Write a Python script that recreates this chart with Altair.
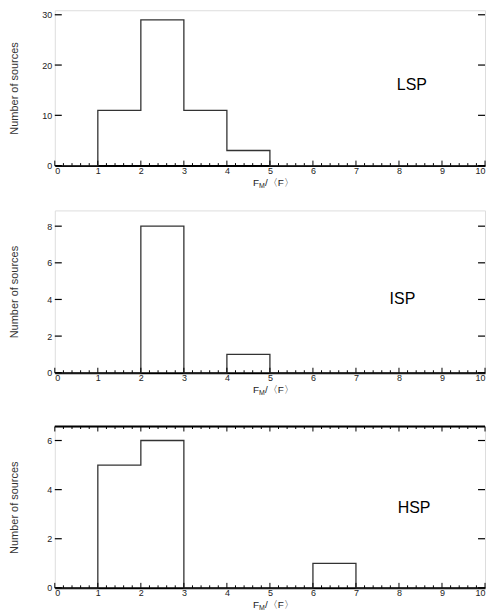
import altair as alt
import pandas as pd

# ---- data ----
bin_edges = [0, 1, 2, 3, 4, 5, 6, 7, 8, 9, 10]
lsp_counts = [0, 11, 29, 11, 3, 0, 0, 0, 0, 0]
isp_counts = [0, 0, 8, 0, 1, 0, 0, 0, 0, 0]
hsp_counts = [0, 5, 6, 0, 0, 0, 1, 0, 0, 0]

lsp_yticks = [0, 10, 20, 30]
isp_yticks = [0, 2, 4, 6, 8]
hsp_yticks = [0, 2, 4, 6]

x_major = [0, 1, 2, 3, 4, 5, 6, 7, 8, 9, 10]
x_minor = [round(i * 0.2, 1) for i in range(51) if i % 5 != 0]

W = 432
FONT = "Liberation Sans"


def panel(name, counts, ymax, yticks, lab_x, lab_y, h, top_ticks, below):
    df = pd.DataFrame({"x": bin_edges, "y": counts + [0]})
    xs = alt.Scale(domain=[0, 10], nice=False, zero=False)
    ys = alt.Scale(domain=[0, ymax], nice=False)

    line = alt.Chart(df).mark_line(
        interpolate="step-after", color="#333333", strokeWidth=1.3
    ).encode(
        x=alt.X("x:Q", scale=xs, axis=alt.Axis(
            values=x_major, ticks=False, domain=True, domainWidth=2,
            domainColor="black", labelFontSize=9, labelPadding=1,
            labelColor="#222", labelFont=FONT, format="d", grid=False,
            title=None, labelFlush=True, labelFlushOffset=0)),
        y=alt.Y("y:Q", scale=ys, axis=alt.Axis(
            values=yticks, ticks=False, domain=False, grid=False,
            labelFontSize=9, labelPadding=3, labelColor="#222",
            labelFont=FONT, title="Number of sources", titleFont=FONT,
            titleFontSize=11, titleFontWeight="normal", titleColor="#333",
            titleX=-35, titleY=h / 2)),
    )

    major_df = pd.DataFrame({"t": x_major})
    minor_df = pd.DataFrame({"t": x_minor})
    yt_df = pd.DataFrame({"t": yticks})

    layers = [line]
    layers.append(alt.Chart(major_df).mark_rule(color="black", strokeWidth=1).encode(
        x=alt.X("t:Q", scale=xs), y=alt.value(h), y2=alt.value(h - 5)))
    layers.append(alt.Chart(minor_df).mark_rule(color="black", strokeWidth=1).encode(
        x=alt.X("t:Q", scale=xs), y=alt.value(h), y2=alt.value(h - 2.5)))
    if top_ticks:
        layers.append(alt.Chart(major_df).mark_rule(color="black", strokeWidth=1).encode(
            x=alt.X("t:Q", scale=xs), y=alt.value(0), y2=alt.value(5)))
        layers.append(alt.Chart(minor_df).mark_rule(color="black", strokeWidth=1).encode(
            x=alt.X("t:Q", scale=xs), y=alt.value(0), y2=alt.value(2.5)))
        layers.append(alt.Chart(major_df.head(1)).mark_rule(color="black", strokeWidth=2).encode(
            x=alt.value(0), x2=alt.value(W), y=alt.value(0)))
    layers.append(alt.Chart(yt_df).mark_rule(color="black", strokeWidth=1.2).encode(
        y=alt.Y("t:Q", scale=ys), x=alt.value(0), x2=alt.value(7)))
    layers.append(alt.Chart(yt_df).mark_rule(color="black", strokeWidth=1.2).encode(
        y=alt.Y("t:Q", scale=ys), x=alt.value(W), x2=alt.value(W - 7)))

    lab_df = pd.DataFrame({"x": [lab_x], "y": [lab_y], "t": [name]})
    layers.append(alt.Chart(lab_df).mark_text(
        font=FONT, fontSize=16, color="black", align="center", baseline="middle"
    ).encode(x=alt.X("x:Q", scale=xs), y=alt.Y("y:Q", scale=ys), text="t:N"))

    # x-axis title  F_M/<F>
    ty = h + 17
    x0 = W / 2 - 17
    t1 = pd.DataFrame({"t": ["F"]})
    t2 = pd.DataFrame({"t": ["M"]})
    t3 = pd.DataFrame({"t": ["/〈F〉"]})
    layers.append(alt.Chart(t1).mark_text(font=FONT, fontSize=10, color="#222",
        align="left", baseline="middle").encode(
        x=alt.value(x0), y=alt.value(ty), text="t:N"))
    layers.append(alt.Chart(t2).mark_text(font=FONT, fontSize=7, color="#222",
        align="left", baseline="middle").encode(
        x=alt.value(x0 + 6), y=alt.value(ty + 3), text="t:N"))
    layers.append(alt.Chart(t3).mark_text(font=FONT, fontSize=10, color="#222",
        align="left", baseline="middle").encode(
        x=alt.value(x0 + 12), y=alt.value(ty), text="t:N"))

    # invisible spacer controlling the gap below the panel
    if below:
        layers.append(alt.Chart(major_df.head(1)).mark_rule(
            color="white", strokeOpacity=0, strokeWidth=1).encode(
            x=alt.value(0), x2=alt.value(10), y=alt.value(h + below)))

    return alt.layer(*layers).properties(width=W, height=h)


p1 = panel("LSP", lsp_counts, 30.9, lsp_yticks, 8.3, 16, 156, False, 43)
p2 = panel("ISP", isp_counts, 8.86, isp_yticks, 8.08, 4.0, 163, False, 51)
p3 = panel("HSP", hsp_counts, 6.57, hsp_yticks, 8.35, 3.24, 162, True, 0)

chart = alt.vconcat(p1, p2, p3, spacing=0).properties(
    padding={"top": 0, "left": 0, "right": 0, "bottom": 0}
).configure_view(stroke="black", strokeWidth=1).configure(background="white")

chart.save("out.html", embed_options={"renderer": "svg", "actions": False})
